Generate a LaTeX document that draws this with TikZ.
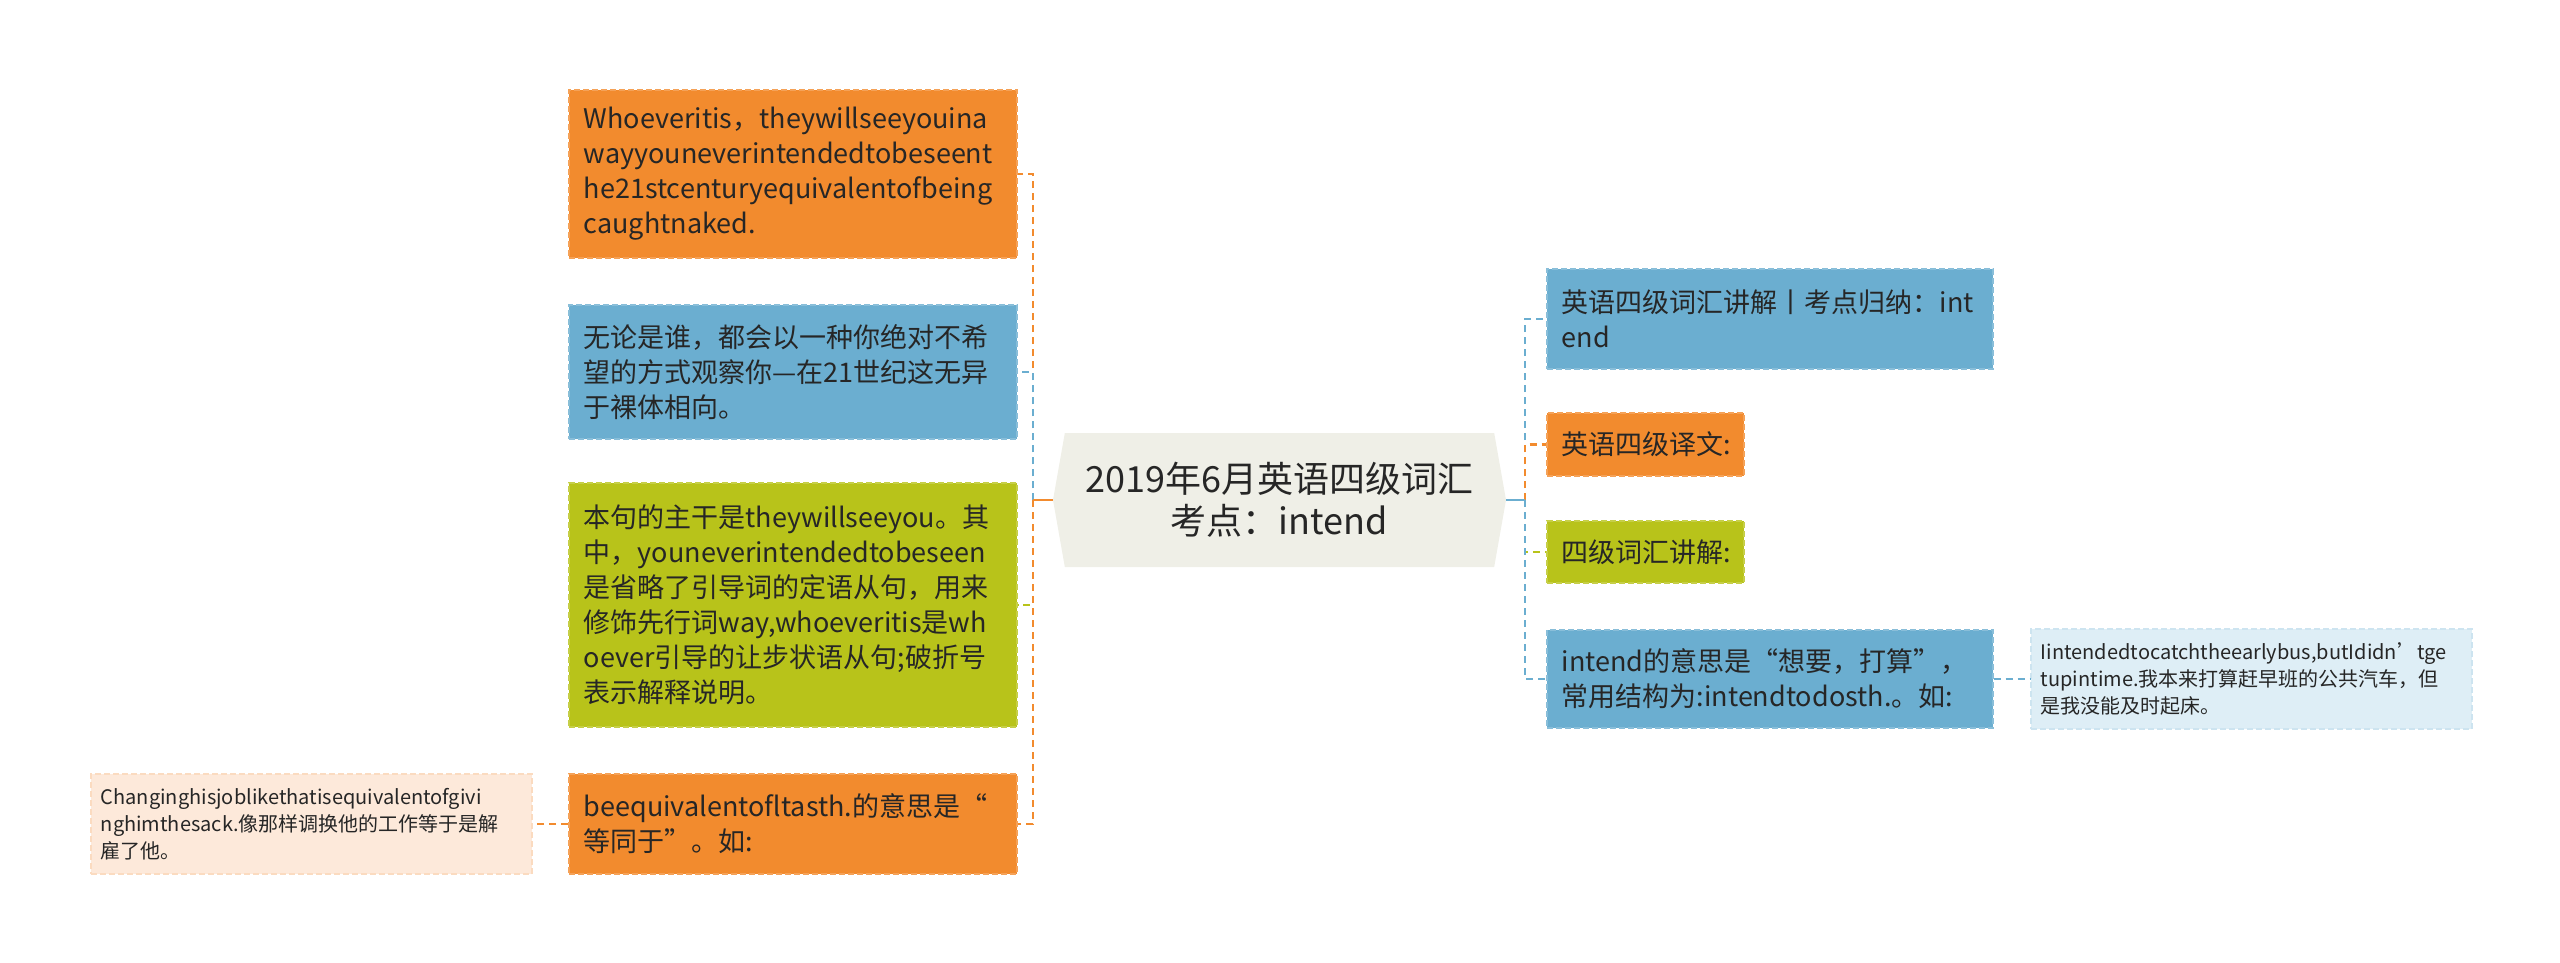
\documentclass[tikz,border=0pt]{standalone}
\usepackage{fontspec}
\setmainfont{Noto Sans CJK SC}
\usetikzlibrary{shapes.symbols,positioning}

\definecolor{mmorange}{RGB}{242,139,46}
\definecolor{mmblue}{RGB}{107,174,208}
\definecolor{mmgreen}{RGB}{184,195,26}
\definecolor{mmroot}{RGB}{239,239,231}
\definecolor{mmpeach}{RGB}{253,233,218}
\definecolor{mmsky}{RGB}{222,238,246}
\definecolor{mmtext}{RGB}{38,38,38}

\tikzset{
  box/.style={draw, dash pattern=on 3pt off 1.5pt, line width=0.8pt, anchor=west,
    align=left, inner xsep=7.5pt, inner ysep=5pt, text=mmtext,
    font=\fontsize{13.5}{17.5}\selectfont},
  orangebox/.style={box, fill=mmorange, draw=mmorange!80!white},
  bluebox/.style={box, fill=mmblue, draw=mmblue!80!white},
  greenbox/.style={box, fill=mmgreen, draw=mmgreen!80!white},
  smallbox/.style={box, inner xsep=5pt, text width=210.5pt, minimum height=50pt,
    font=\fontsize{10}{13.5}\selectfont},
  link/.style={line width=1.3pt, dash pattern=on 3.5pt off 2.5pt},
}

\begin{document}
\begin{tikzpicture}[x=1pt, y=1pt]
    \useasboundingbox (0,0) rectangle (1280,-481.5);

                % Nodes
                \node (root) [signal, signal to=west and east, signal pointer angle=160,
                    fill=mmroot, minimum width=226.5pt, minimum height=67pt, inner sep=0pt,
                    align=center, text=mmtext, font=\fontsize{18}{21}\selectfont]
                    at (639.75,-250) {2019年6月英语四级词汇\\考点：intend};

                \node (l1) [orangebox, text width=209pt, minimum height=84pt] at (284,-87)
                    {Whoeveritis，theywillseeyouina\\wayyouneverintendedtobeseent\\he21stcenturyequivalentofbeing\\caughtnaked.};
                \node (l2) [bluebox, text width=209pt, minimum height=67pt] at (284,-186)
                    {无论是谁，都会以一种你绝对不希\\望的方式观察你—在21世纪这无异\\于裸体相向。};
                \node (l3) [greenbox, text width=209pt, minimum height=122pt] at (284,-302.5)
                    {本句的主干是theywillseeyou。其\\中，youneverintendedtobeseen\\是省略了引导词的定语从句，用来\\修饰先行词way,whoeveritis是wh\\oever引导的让步状语从句;破折号\\表示解释说明。};
                \node (l4) [orangebox, text width=209pt, minimum height=50pt] at (284,-412)
                    {beequivalentofltasth.的意思是“\\等同于”。如:};
                \node (fl) [smallbox, fill=mmpeach, draw=mmpeach!85!mmorange] at (45,-412)
                    {Changinghisjoblikethatisequivalentofgivi\\nghimthesack.像那样调换他的工作等于是解\\雇了他。};

                \node (r1) [bluebox, text width=208pt, minimum height=50pt] at (773,-159.5)
                    {英语四级词汇讲解丨考点归纳：int\\end};
                \node (r2) [orangebox, text width=83.5pt, minimum height=31.5pt] at (773,-222.25)
                    {英语四级译文:};
                \node (r3) [greenbox, text width=83.5pt, minimum height=31pt] at (773,-276)
                    {四级词汇讲解:};
                \node (r4) [bluebox, text width=208pt, minimum height=49pt] at (773,-339.5)
                    {intend的意思是“想要，打算”，\\常用结构为:intendtodosth.。如:};
                \node (fr) [smallbox, fill=mmsky, draw=mmsky!85!mmblue] at (1015,-339.5)
                    {Iintendedtocatchtheearlybus,butIdidn'tge\\tupintime.我本来打算赶早班的公共汽车，但\\是我没能及时起床。};

                % Trunks
                \coordinate (lj) at (516.5,-250);
                \coordinate (rj) at (762.5,-250);

                % Left branches
                \draw[link, mmorange] (lj) |- (l1.east);
                \draw[link, mmblue] (lj) |- (l2.east);
                \draw[link, mmgreen] (lj) |- (l3.east);
                \draw[link, mmorange] (lj) |- (l4.east);
                \draw[line width=1.3pt, mmorange] (root.west) -- (lj);
                \draw[link, mmorange] (l4.west) -- (fl.east);

                % Right branches
                \draw[link, mmblue] (rj) |- (r1.west);
                \draw[link, mmorange] (rj) |- (r2.west);
                \draw[link, mmgreen] (rj) |- (r3.west);
                \draw[link, mmblue] (rj) |- (r4.west);
                \draw[line width=1.3pt, mmblue] (root.east) -- (rj);
                \draw[link, mmblue] (r4.east) -- (fr.west);

\end{tikzpicture}
\end{document}
